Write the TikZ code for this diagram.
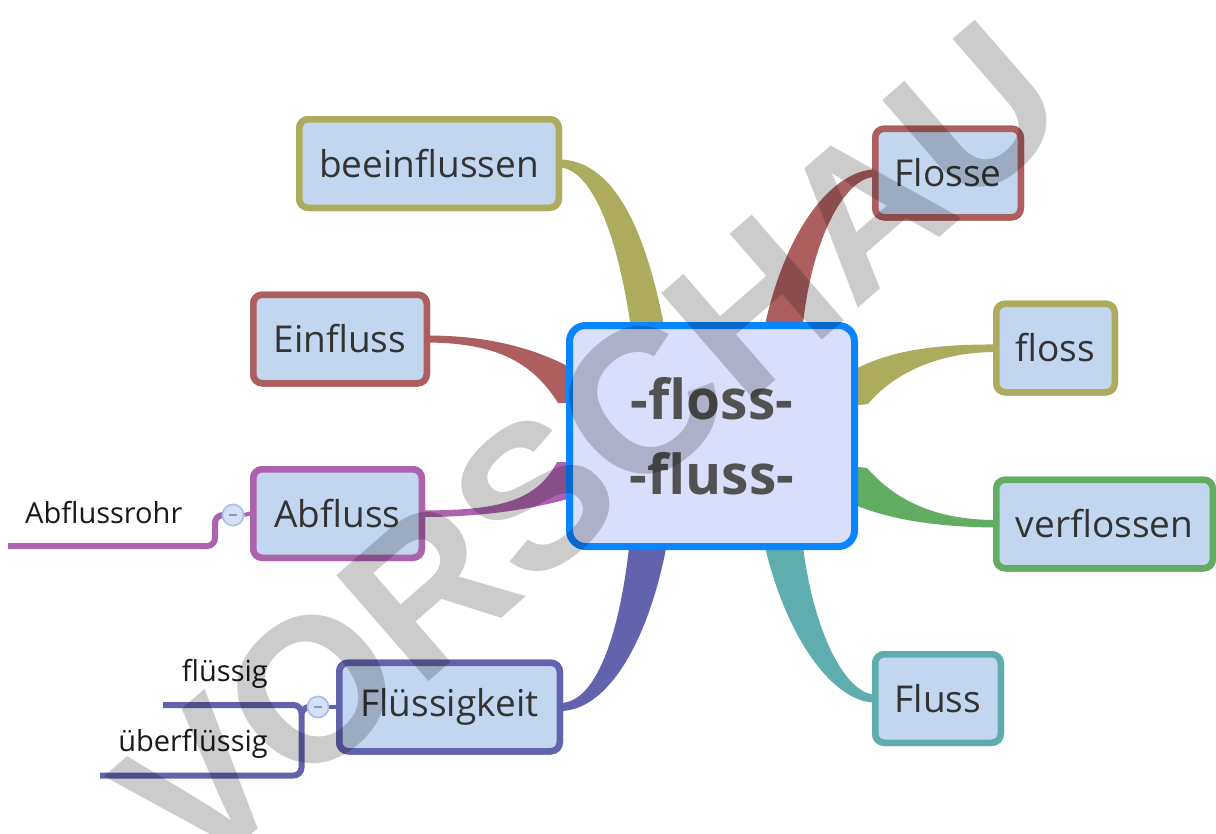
\documentclass[tikz,border=0pt]{standalone}
\usepackage{fontspec}
\setmainfont{Open Sans}
\newfontfamily\wmfont{Liberation Sans}
\usetikzlibrary{calc}
\definecolor{nodefill}{HTML}{C3D6F0}
\definecolor{ctrfill}{HTML}{D9DEFA}
\definecolor{ctrline}{HTML}{0A84FF}
\definecolor{olv}{HTML}{ADAB5E}
\definecolor{rdb}{HTML}{AD5F5F}
\definecolor{prp}{HTML}{AC62AC}
\definecolor{grn}{HTML}{62AD62}
\definecolor{ind}{HTML}{6262AD}
\definecolor{tea}{HTML}{5FADAD}
\definecolor{txt}{HTML}{333333}
\definecolor{colfill}{HTML}{D5E1F7}
\definecolor{colline}{HTML}{A8C0EE}
\definecolor{colminus}{HTML}{8C9BB5}
\begin{document}
\begin{tikzpicture}[x=1pt,y=-1pt,
  box/.style={draw, line width=6.5pt, rounded corners=9pt, fill=nodefill, text=txt,
    font=\fontsize{37}{44}\selectfont, inner sep=0pt, minimum height=88.5pt},
  ctrbox/.style={draw=ctrline, line width=7pt, rounded corners=16pt, fill=ctrfill, text=txt!85!white,
    font=\fontsize{55}{75}\selectfont\bfseries, align=center, inner sep=0pt,
    minimum width=285pt, minimum height=221pt},
  subtext/.style={font=\fontsize{29}{33}\selectfont, text=black!90, inner sep=0pt},
  subline/.style={line width=6pt, rounded corners=8pt},
  collapse/.style={circle, draw=colline, line width=1.5pt, fill=colfill, minimum size=21pt, inner sep=0pt},
  minus/.style={draw=colminus, line width=1.5pt},
  wmark/.style={font=\wmfont\bfseries\fontsize{204}{204}\selectfont, text=black, text opacity=0.2, inner sep=0pt}
]
\useasboundingbox (0,0) rectangle (1216,833);

% nodes (placed first so their anchors exist; drawn again on top below)
\path
  node[box, draw=olv, minimum width=259.5pt] (bee) at (429,163.5) {beeinflussen}
  node[box, draw=rdb, minimum width=145.5pt] (flo) at (948,173) {Flosse}
  node[box, draw=rdb, minimum width=173.5pt] (ein) at (340,339) {Einfluss}
  node[box, draw=olv, minimum width=118.5pt] (fls) at (1055.5,348) {floss}
  node[box, draw=prp, minimum width=168.5pt] (abf) at (337.5,513.5) {Abfluss}
  node[box, draw=grn, minimum width=216.5pt] (ver) at (1104.5,524) {verflossen}
  node[box, draw=ind, minimum width=220.5pt] (flk) at (449.5,707) {Flüssigkeit}
  node[box, draw=tea, minimum width=125.5pt] (flu) at (938,698.5) {Fluss};

% collapse circles
\node[collapse] (cab) at (233,515) {};
\node[collapse] (cfl) at (318,707) {};

% free ends of sub-branches
\coordinate (abe) at (8,546);
\coordinate (fa) at (163,705);
\coordinate (fb) at (100,775.5);

% sub-branch lines
\draw[prp, subline] (cab.west) -| (215,546) -- (abe);
\draw[prp, line width=4pt] (cab.east) -- (abf.west);
\draw[ind, subline] (cfl.west) -| (301.5,775.5) -- (fb);
\draw[ind, subline] (fa) -- (301.5,705) -- (301.5,712);
\draw[ind, line width=4pt] (cfl.east) -- (flk.west);

% sub-branch labels
\node[subtext, anchor=base west] (abr) at (25,523) {Abflussrohr};
\node[subtext, anchor=base east] (fl1) at (268,681) {flüssig};
\node[subtext, anchor=base east] (fl2) at (268,751) {überflüssig};

% tapered branches
\coordinate (cnw) at (566,322);
\fill[olv] ($(bee.east)+(-3,-4)$) .. controls (610,160) and (645,220) .. ($(cnw)+(100,14)$)
  -- ($(cnw)+(66,14)$) .. controls (618,230) and (590,168) .. ($(bee.east)+(-3,4)$) -- cycle;
\fill[rdb] ($(ein.east)+(-3,-3.5)$) .. controls (480,335.5) and (530,345) .. (575,370)
  -- (575,403) -- (558,403) .. controls (530,358) and (490,343) .. ($(ein.east)+(-3,3.5)$) -- cycle;
\fill[prp] ($(abf.east)+(-3,-3)$) .. controls (490,510) and (535,505) .. (557,462)
  -- (575,462) -- (575,497) .. controls (530,510) and (480,517) .. ($(abf.east)+(-3,3.5)$) -- cycle;
\fill[ind] ($(flk.east)+(-3,-4)$) .. controls (600,703) and (622,620) .. (630,538)
  -- (668,538) .. controls (650,640) and (608,711) .. ($(flk.east)+(-3,4)$) -- cycle;
\fill[rdb] ($(flo.west)+(3,-3.5)$) .. controls (835,170) and (785,225) .. (763,334)
  -- (802,334) .. controls (810,240) and (845,177) .. ($(flo.west)+(3,4)$) -- cycle;
\fill[olv] ($(fls.west)+(3,-3.5)$) .. controls (930,344) and (885,352) .. (850,372)
  -- (850,406) -- (868,404) .. controls (895,372) and (940,352) .. ($(fls.west)+(3,4)$) -- cycle;
\fill[grn] ($(ver.west)+(3,-4)$) .. controls (935,520) and (895,500) .. (867,468)
  -- (850,466) -- (850,503) .. controls (885,518) and (930,527) .. ($(ver.west)+(3,3.5)$) -- cycle;
\fill[tea] ($(flu.west)+(3,4)$) .. controls (835,703) and (785,640) .. (763,538)
  -- (802,538) .. controls (812,630) and (845,694) .. ($(flu.west)+(3,-4)$) -- cycle;

% center node
\node[ctrbox] (ctr) at (712,436) {-floss-\\-fluss-};

% redraw branch nodes on top
\path
  node[box, draw=olv, minimum width=259.5pt] at (bee) {beeinflussen}
  node[box, draw=rdb, minimum width=145.5pt] at (flo) {Flosse}
  node[box, draw=rdb, minimum width=173.5pt] at (ein) {Einfluss}
  node[box, draw=olv, minimum width=118.5pt] at (fls) {floss}
  node[box, draw=prp, minimum width=168.5pt] at (abf) {Abfluss}
  node[box, draw=grn, minimum width=216.5pt] at (ver) {verflossen}
  node[box, draw=ind, minimum width=220.5pt] at (flk) {Flüssigkeit}
  node[box, draw=tea, minimum width=125.5pt] at (flu) {Fluss};

% collapse circles on top
\node[collapse] at (cab) {};
\node[collapse] at (cfl) {};
\draw[minus] ($(cab)+(-4,0)$) -- ($(cab)+(4,0)$);
\draw[minus] ($(cfl)+(-4,0)$) -- ($(cfl)+(4,0)$);

% watermark
\node[wmark, rotate=41] (wm) at (590,448) {VORSCHAU};
\end{tikzpicture}
\end{document}
